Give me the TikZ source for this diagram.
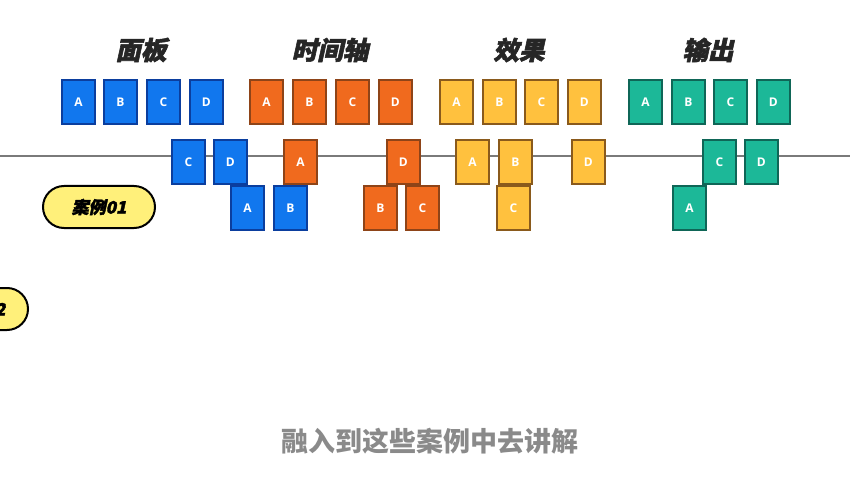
\documentclass[tikz,border=0pt]{standalone}
\usepackage{fontspec}
\setmainfont{Open Sans}
\newfontfamily\cjkt[FakeSlant=0.22, FakeBold=2.2]{Noto Sans CJK SC}
\newfontfamily\cjkn{Noto Sans CJK SC}
\definecolor{bfill}{HTML}{1177EE}
\definecolor{bdraw}{HTML}{0B3E9E}
\definecolor{ofill}{HTML}{F06A1E}
\definecolor{odraw}{HTML}{8E4418}
\definecolor{yfill}{HTML}{FFC13E}
\definecolor{ydraw}{HTML}{8A5A1C}
\definecolor{tfill}{HTML}{1CB898}
\definecolor{tdraw}{HTML}{0F6657}
\definecolor{pillfill}{HTML}{FFF07A}
\definecolor{linegray}{HTML}{7A7A7A}
\definecolor{subgray}{HTML}{8A8A8A}
\begin{document}
\begin{tikzpicture}[x=1pt,y=-1pt,
  card/.style={draw, line width=1.8pt, minimum width=33pt, minimum height=44pt, inner sep=0pt,
     text=white, font=\fontsize{12}{12}\selectfont\bfseries, anchor=north west},
  bcard/.style={card, fill=bfill, draw=bdraw},
  ocard/.style={card, fill=ofill, draw=odraw},
  ycard/.style={card, fill=yfill, draw=ydraw},
  tcard/.style={card, fill=tfill, draw=tdraw},
  title/.style={font=\cjkt\bfseries\fontsize{25.5}{25.5}\selectfont, text=black!85},
  pill/.style={draw=black, line width=2pt, fill=pillfill, rounded corners=21pt,
     minimum width=112pt, minimum height=42pt, font=\cjkt\bfseries\fontsize{17}{17}\selectfont, inner sep=0pt}]
\useasboundingbox (0,0) rectangle (850,478);
\fill[white] (0,0) rectangle (850,478);
% timeline
\coordinate (l0) at (0,156);
\coordinate (l1) at (850,156);
\draw[linegray, line width=1.2pt] (l0) -- (l1);
% titles
\node[title] (t1) at (141,50) {面板};
\node[title] (t2) at (330,50) {时间轴};
\node[title] (t3) at (519,50) {效果};
\node[title] (t4) at (708,50) {输出};
% panel
\node[bcard] (pA) at (61,79) {A};
\node[bcard] (pB) at (103,79) {B};
\node[bcard] (pC) at (146,79) {C};
\node[bcard] (pD) at (189,79) {D};
\node[bcard] (pC2) at (171,139) {C};
\node[bcard] (pD2) at (213,139) {D};
\node[bcard] (pA3) at (230,185) {A};
\node[bcard] (pB3) at (273,185) {B};
% timeline group
\node[ocard] (oA) at (249,79) {A};
\node[ocard] (oB) at (292,79) {B};
\node[ocard] (oC) at (335,79) {C};
\node[ocard] (oD) at (378,79) {D};
\node[ocard] (oA2) at (283,139) {A};
\node[ocard] (oD2) at (386,139) {D};
\node[ocard] (oB3) at (363,185) {B};
\node[ocard] (oC3) at (405,185) {C};
% effects
\node[ycard] (yA) at (439,79) {A};
\node[ycard] (yB) at (482,79) {B};
\node[ycard] (yC) at (524,79) {C};
\node[ycard] (yD) at (567,79) {D};
\node[ycard] (yA2) at (455,139) {A};
\node[ycard] (yB2) at (498,139) {B};
\node[ycard] (yD2) at (571,139) {D};
\node[ycard] (yC3) at (496,185) {C};
% output
\node[tcard] (tA) at (628,79) {A};
\node[tcard] (tB) at (671,79) {B};
\node[tcard] (tC) at (713,79) {C};
\node[tcard] (tD) at (756,79) {D};
\node[tcard] (tC2) at (702,139) {C};
\node[tcard] (tD2) at (744,139) {D};
\node[tcard] (tA3) at (672,185) {A};
% pills
\node[pill] (case1) at (99,207) {案例01};
\begin{scope}
\clip (0,0) rectangle (850,478);
\node[pill] (case2) at (-28,309) {\hspace*{12pt}案例02};
\end{scope}
% subtitle
\node[font=\cjkn\bfseries\fontsize{27}{27}\selectfont, text=subgray] (sub) at (430,441) {融入到这些案例中去讲解};
\end{tikzpicture}
\end{document}
